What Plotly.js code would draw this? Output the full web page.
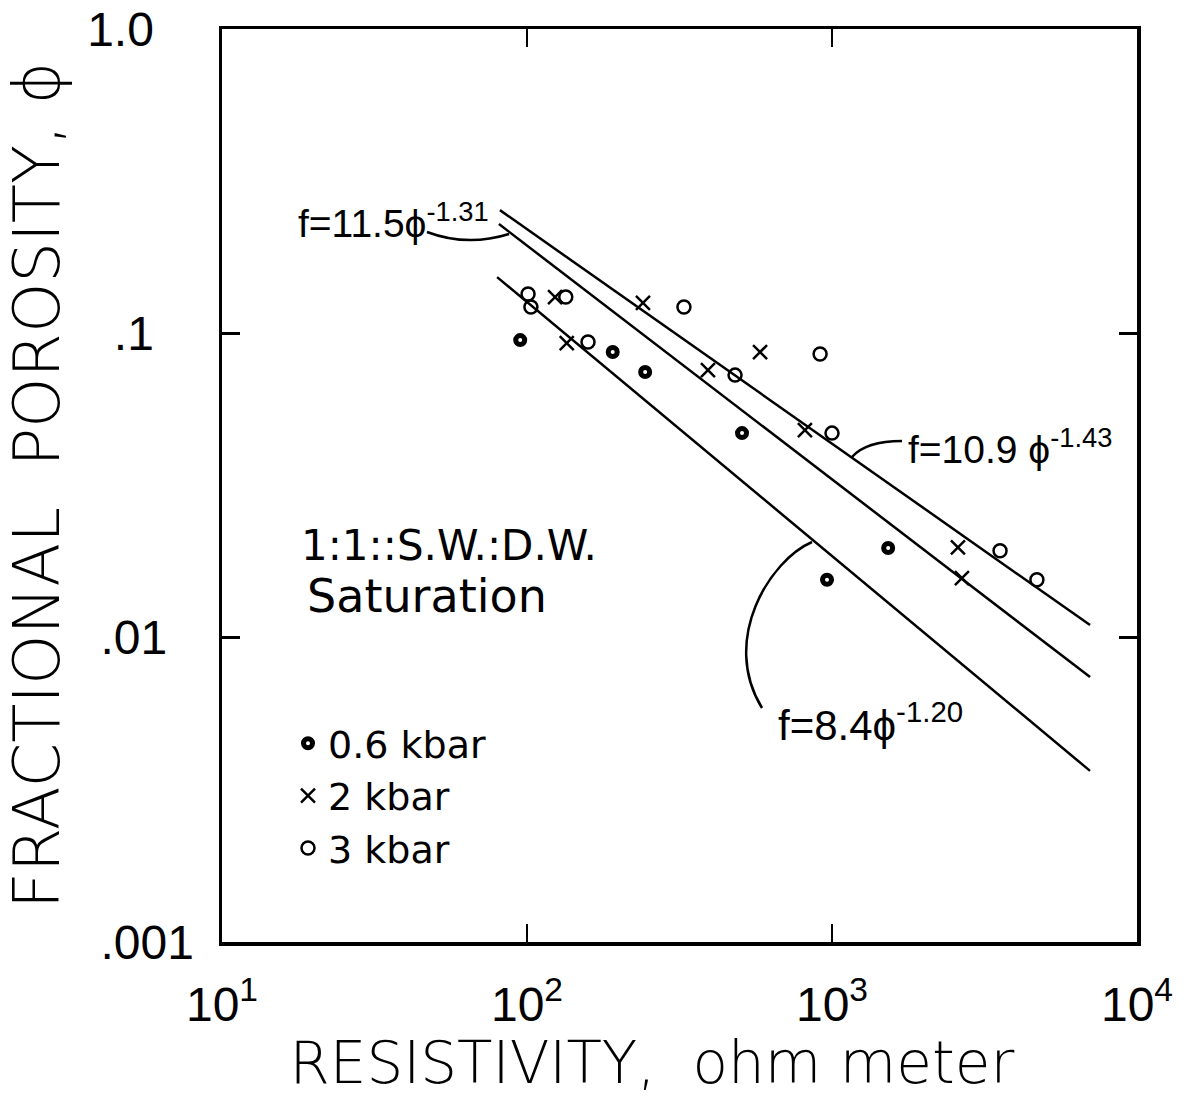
<!DOCTYPE html>
<html>
<head>
<meta charset="utf-8">
<script src="https://cdn.plot.ly/plotly-3.0.1.min.js"></script>
<style>html,body{margin:0;padding:0;background:#fff;}#chart{width:1187px;height:1097px;}</style>
</head>
<body>
<div id="chart"></div>
<script>
// ---- data ----
const kbar06_res = [95, 191, 244, 507, 1528, 963];
const kbar06_phi = [0.095, 0.0868, 0.0746, 0.047, 0.0197, 0.0155];

const kbar2_res = [123.6, 135, 240, 392, 581, 815, 2588, 2667];
const kbar2_phi = [0.1316, 0.0929, 0.126, 0.0757, 0.0868, 0.0481, 0.0198, 0.0157];

const kbar3_res = [100.8, 103, 134, 158.5, 327, 481, 914, 1000, 3556, 4697];
const kbar3_phi = [0.1346, 0.122, 0.1316, 0.0936, 0.122, 0.0729, 0.0855, 0.047, 0.0193, 0.0155];

// fitted lines (end points)
const fit109_res = [81.5, 7015];
const fit109_phi = [0.254, 0.011];
const fit115_res = [80.9, 7015];
const fit115_phi = [0.2286, 0.00742];
const fit84_res = [79.8, 7015];
const fit84_phi = [0.153, 0.00365];

const NB = '\u00A0';
const xTickVals = [10, 100, 1000, 10000];
const xTickText = ['10<sup>1</sup>', '10<sup>2</sup>', '10<sup>3</sup>', '10<sup>4</sup>'];
const yTickVals = [1, 0.1, 0.01, 0.001];
const yTickText = ['1.0' + NB + NB + NB, '.1' + NB + NB + NB, '.01' + NB + NB, '.001'];

const legendNames = ['0.6 kbar', '2 kbar', '3 kbar'];
const fitLabels = ['f=11.5ϕ<sup>-1.31</sup>', 'f=10.9 ϕ<sup>-1.43</sup>', 'f=8.4ϕ<sup>-1.20</sup>'];
const noteLines = ['1:1::S.W.:D.W.', 'Saturation'];
const xTitle = 'RESISTIVITY,  ohm meter' + NB + NB + NB + '\u200B';
const yTitle = 'FRACTIONAL  POROSITY, ϕ';

// ---- chart ----
const FONT = 'DejaVu Sans, sans-serif';
const NUMFONT = 'Liberation Sans, DejaVu Sans, sans-serif';
const lineStyle = {color: '#000', width: 2.5};

const traces = [
  {x: fit109_res, y: fit109_phi, mode: 'lines', line: lineStyle, showlegend: false, hoverinfo: 'skip'},
  {x: fit115_res, y: fit115_phi, mode: 'lines', line: lineStyle, showlegend: false, hoverinfo: 'skip'},
  {x: fit84_res, y: fit84_phi, mode: 'lines', line: lineStyle, showlegend: false, hoverinfo: 'skip'},
  {x: kbar06_res, y: kbar06_phi, mode: 'markers', name: legendNames[0],
   marker: {symbol: 'circle-open', size: 9, color: '#000', line: {color: '#000', width: 5}}},
  {x: kbar2_res, y: kbar2_phi, mode: 'markers', name: legendNames[1],
   marker: {symbol: 'x-thin-open', size: 14, color: '#000', line: {color: '#000', width: 2.5}}},
  {x: kbar3_res, y: kbar3_phi, mode: 'markers', name: legendNames[2],
   marker: {symbol: 'circle-open', size: 13, color: '#000', line: {color: '#000', width: 2.5}}}
];

// paper coords helpers (plot area: x 222..1137, y 29..942)
const px = v => (v - 222) / 915;
const py = v => (942 - v) / 913;

const annotations = [
  {text: fitLabels[0], x: px(296), y: py(220), xanchor: 'left', yanchor: 'middle'},
  {text: fitLabels[1], x: px(906), y: py(446), xanchor: 'left', yanchor: 'middle'},
  {text: fitLabels[2], x: px(776), y: py(722), xanchor: 'left', yanchor: 'middle', font: {family: NUMFONT, size: 42, color: '#000'}},
  {text: noteLines[0], x: px(300), y: py(571), xanchor: 'left', yanchor: 'bottom', borderpad: 0, font: {family: FONT, size: 42, color: '#000'}},
  {text: noteLines[1], x: px(306), y: py(568), xanchor: 'left', yanchor: 'top', borderpad: 0, font: {family: FONT, size: 46, color: '#000'}}
].map(a => Object.assign({xref: 'paper', yref: 'paper', showarrow: false, font: {family: NUMFONT, size: 39, color: '#000'}}, a));

const P = (a, b) => px(a).toFixed(4) + ',' + py(b).toFixed(4);
const shapes = [
  {type: 'path', xref: 'paper', yref: 'paper', path: 'M' + P(427, 232) + ' Q' + P(467, 247) + ' ' + P(509, 234), line: {color: '#000', width: 2.5}},
  {type: 'path', xref: 'paper', yref: 'paper', path: 'M' + P(852, 457) + ' Q' + P(866, 441) + ' ' + P(902, 441), line: {color: '#000', width: 2.5}},
  {type: 'path', xref: 'paper', yref: 'paper', path: 'M' + P(812, 542) + ' C' + P(770, 560) + ' ' + P(720, 640) + ' ' + P(762, 708), line: {color: '#000', width: 2.5}}
];

const axisCommon = {
  type: 'log', showgrid: false, zeroline: false,
  showline: true, linecolor: '#000', linewidth: 3.5, mirror: 'allticks',
  ticks: 'inside', ticklen: 18, tickwidth: 2.5, tickcolor: '#000',
  tickmode: 'array', tickfont: {family: NUMFONT, size: 48, color: '#000'}
};

const layout = {
  width: 1187, height: 1097,
  margin: {l: 222, r: 50, t: 29, b: 155, pad: 0},
  paper_bgcolor: '#fff', plot_bgcolor: '#fff',
  font: {family: FONT, color: '#000'},
  showlegend: true,
  legend: {x: px(288), y: py(712), xanchor: 'left', yanchor: 'top', bgcolor: 'rgba(0,0,0,0)',
           font: {family: FONT, size: 38, color: '#000'}, tracegroupgap: 0},
  xaxis: Object.assign({}, axisCommon, {
    range: [1, 4], tickvals: xTickVals, ticktext: xTickText, ticklabelstandoff: 18,
    title: {text: xTitle, font: {family: FONT, size: 58, color: '#000', weight: 300}, standoff: 18}
  }),
  yaxis: Object.assign({}, axisCommon, {
    range: [-3, 0], tickvals: yTickVals, ticktext: yTickText, ticklabelstandoff: 15,
    title: {text: yTitle, font: {family: FONT, size: 64, color: '#000', weight: 300}, standoff: 11}
  }),
  annotations: annotations,
  shapes: shapes
};

Plotly.newPlot('chart', traces, layout, {displayModeBar: false, staticPlot: true});
</script>
</body>
</html>
